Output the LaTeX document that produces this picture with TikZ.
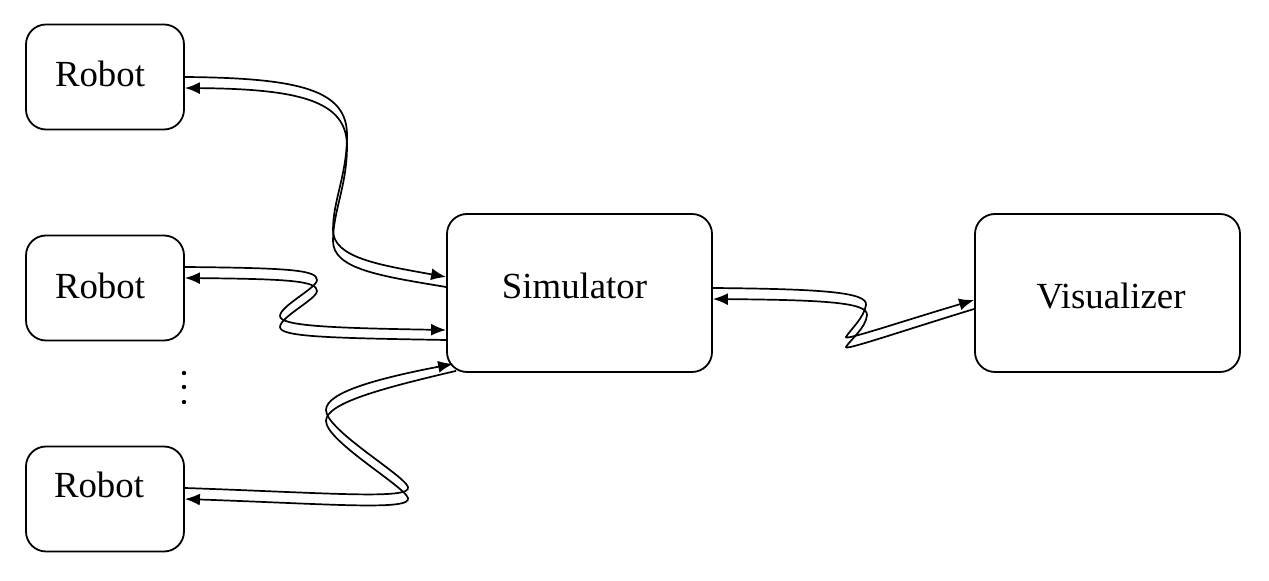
\documentclass[tikz,border=0pt]{standalone}
\usepackage{fontspec}
\setmainfont{Liberation Serif}
\usetikzlibrary{arrows.meta,calc}

% label text, moved by (#1,#2) from the centre of its box
\newcommand{\boxtext}[3]{\raisebox{#2}[0pt][0pt]{\hspace*{#1}#3\hspace*{-#1}}}

\begin{document}
\begin{tikzpicture}[x=0.5pt,y=-0.5pt,
    unit/.style={draw, line width=0.9pt, rounded corners=10pt, inner sep=0pt,
      font=\fontsize{18.4}{22}\selectfont},
    robotbox/.style={unit, minimum width=79pt, minimum height=52.5pt},
    bigbox/.style={unit, minimum width=132.5pt, minimum height=79pt},
    wire/.style={line width=0.85pt},
    fwd/.style={wire, -{Latex[length=7.5pt,width=6pt]}},
    bwd/.style={wire, {Latex[length=7.5pt,width=6pt]}-}]
  \useasboundingbox (0,0) rectangle (1269,581);

  \node[robotbox] (robot1) at (105,77) {\boxtext{-2.5pt}{-5pt}{Robot}};
  \node[robotbox] (robot2) at (105,288) {\boxtext{-2.5pt}{-5.25pt}{Robot}};
  \node[robotbox] (robot3) at (105,499) {\boxtext{-3pt}{0.5pt}{Robot}};
  \node[bigbox] (sim) at (579.5,293) {\boxtext{-2.5pt}{-3pt}{Simulator}};
  \node[bigbox] (vis) at (1107.5,293) {\boxtext{1.75pt}{-8pt}{Visualizer}};

  \foreach \y in {373,387,402}
    \fill (184,\y) circle (1.1pt);

  % robot 1
  \draw[fwd] (robot1.east) .. controls (300,78) and (347,90) .. (347,135)
    .. controls (347,175) and (333,200) .. (333,230)
    .. controls (333,258) and (380,265) .. ($(sim.west)+(0,-16)$);
  \draw[bwd] ($(robot1.east)+(0,11)$) .. controls (300,89) and (347,101) .. (347,146)
    .. controls (347,186) and (333,211) .. (333,241)
    .. controls (333,269) and (380,276) .. ($(sim.west)+(0,-6)$);

  % robot 2
  \draw[fwd] ($(robot2.east)+(0,-21)$) .. controls (290,268) and (317,270) .. (317,280)
    .. controls (317,288) and (280,306) .. (280,316)
    .. controls (280,326) and (330,328) .. ($(sim.west)+(0,37)$);
  \draw[bwd] ($(robot2.east)+(0,-10)$) .. controls (290,279) and (317,281) .. (317,291)
    .. controls (317,299) and (280,317) .. (280,327)
    .. controls (280,337) and (330,338) .. ($(sim.west)+(0,47)$);

  % robot 3
  \draw[fwd] ($(robot3.east)+(0,-11)$) .. controls (330,493) and (412,500) .. (408,487)
    .. controls (404,475) and (326,430) .. (326,410)
    .. controls (326,392) and (380,378) .. ($(sim.south west)+(7,-9)$);
  \draw[bwd] (robot3.east) .. controls (330,504) and (412,511) .. (408,498)
    .. controls (404,486) and (326,441) .. (326,421)
    .. controls (326,403) and (383,388) .. ($(sim.south west)+(10,-2)$);

  % visualizer
  \draw[fwd] ($(sim.east)+(0,-5)$) .. controls (820,289) and (868,292) .. (866,305)
    .. controls (864,318) and (850,330) .. (846,337)
    .. controls (844,341) and (900,322) .. ($(vis.west)+(0,7)$);
  \draw[bwd] ($(sim.east)+(0,6)$) .. controls (820,300) and (868,302) .. (867,315)
    .. controls (866,328) and (850,340) .. (846,347)
    .. controls (844,351) and (902,331) .. ($(vis.west)+(0,16)$);
\end{tikzpicture}
\end{document}
